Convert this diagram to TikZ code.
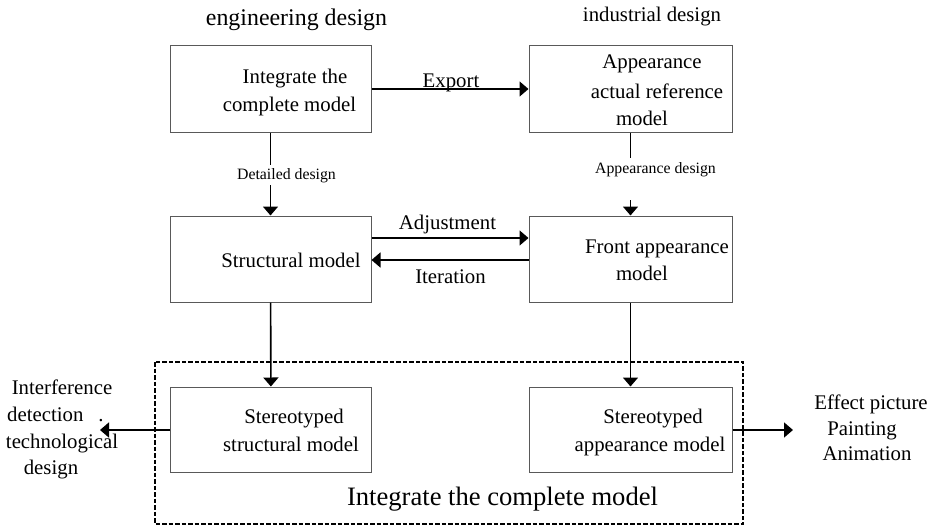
\documentclass[tikz,border=0pt]{standalone}
\usepackage{fontspec}
\setmainfont{Liberation Serif}
\usetikzlibrary{arrows.meta}
\begin{document}
\begin{tikzpicture}[x=1pt,y=-1pt,
  box/.style={draw=black!65, line width=1pt, minimum width=201pt, minimum height=86pt, inner sep=0pt},
  txt/.style={font=\fontsize{20.8}{28}\selectfont, inner sep=0pt, anchor=base},
  small/.style={font=\fontsize{15.8}{19}\selectfont, inner sep=0pt, anchor=base},
  link/.style={line width=1.6pt, -{Triangle[length=9pt,width=15pt]}},
  plain/.style={line width=1.6pt},
  group/.style={draw=black, line width=1.4pt, dash pattern=on 4.5pt off 2pt}]
\useasboundingbox (0,0) rectangle (934,527);

% headings
\node[font=\fontsize{23.9}{28}\selectfont, inner sep=0pt, anchor=base] (hEng) at (296.5,26) {engineering design};
\node[txt] (hInd) at (652,22) {industrial design};

% group frame around the final models
\draw[group] (155,362) rectangle (743,524);
\node[font=\fontsize{26.6}{30}\selectfont, inner sep=0pt, anchor=base] (gTitle) at (502.5,505) {Integrate the complete model};

% boxes
\node[box] (b1) at (270.5,89) {};
\node[box, minimum width=203pt] (b2) at (630.5,89) {};
\node[box] (b3) at (270.5,259) {};
\node[box, minimum width=203pt] (b4) at (630.5,259) {};
\node[box, minimum height=85pt] (b5) at (271,429.5) {};
\node[box, minimum width=203pt, minimum height=85pt] (b6) at (630.5,429.5) {};

% box texts
\node[txt] (t1a) at (295,83) {Integrate the};
\node[txt] (t1b) at (289.5,111) {complete model};
\node[txt] (t2a) at (652,69) {Appearance};
\node[txt] (t2b) at (657,98) {actual reference};
\node[txt] (t2c) at (642,125) {model};
\node[txt] (t3a) at (291,267) {Structural model};
\node[txt] (t4a) at (657,253) {Front appearance};
\node[txt] (t4b) at (642,280) {model};
\node[txt] (t5a) at (294,423) {Stereotyped};
\node[txt] (t5b) at (291,451) {structural model};
\node[txt] (t6a) at (653,423) {Stereotyped};
\node[txt] (t6b) at (650,451) {appearance model};

% outer texts
\node[txt] (l1) at (62,394) {Interference};
\node[txt, anchor=base west] (l2) at (7,421) {detection\hspace{15pt}.};
\node[txt] (l3) at (62,448) {technological};
\node[txt] (l4) at (51,474) {design};
\node[txt] (r1) at (871,409) {Effect picture};
\node[txt] (r2) at (862,435) {Painting};
\node[txt] (r3) at (867,460) {Animation};

% free ends
\coordinate (ad1) at (630.5,158);
\coordinate (ad2) at (630.5,200);
\coordinate (leftEnd) at (100,430);
\coordinate (rightEnd) at (793,430);

% connectors
\draw[link] (b1) -- (b2);
\node[txt] (lExport) at (451,87) {Export};
\draw[link] (b1) -- (b3);
\node[small, fill=white, inner sep=3pt] (lDet) at (286.5,179) {Detailed design};
\draw[plain] (b2) -- (ad1);
\draw[link] (ad2) -- (b4);
\node[small] (lApp) at (655.5,173) {Appearance design};
\draw[link] ([yshift=21pt]b3.east) -- ([yshift=21pt]b4.west);
\node[txt] (lAdj) at (447.5,229) {Adjustment};
\draw[link] ([yshift=-1pt]b4.west) -- ([yshift=-1pt]b3.east);
\node[txt] (lIt) at (450.5,283) {Iteration};
\draw[link] (b3) -- (b5);
\draw[link] (b4) -- (b6);
\draw[link] ([yshift=-0.5pt]b5.west) -- (leftEnd);
\draw[link] ([yshift=-0.5pt]b6.east) -- (rightEnd);
\end{tikzpicture}
\end{document}
